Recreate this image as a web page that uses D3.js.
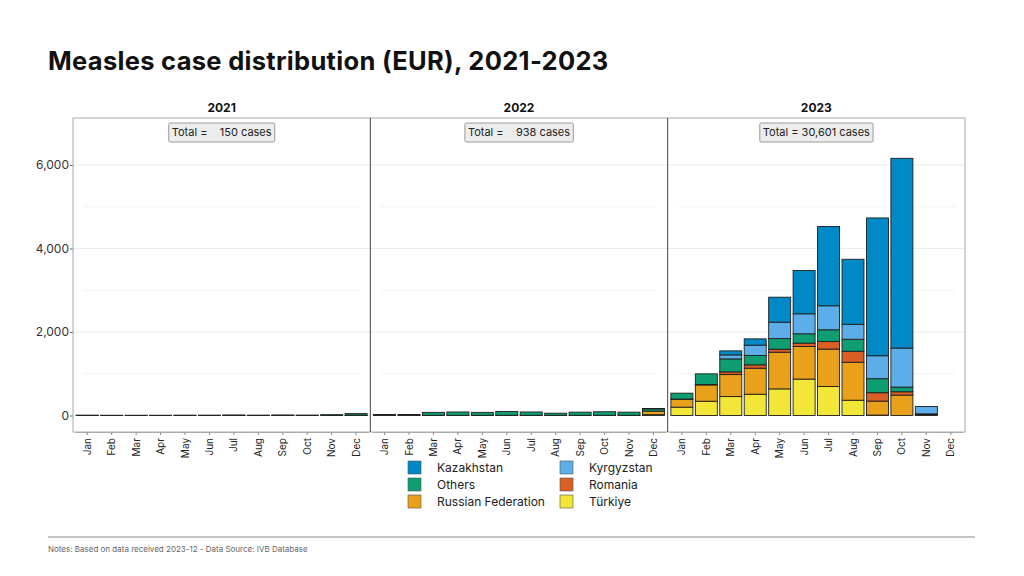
<!DOCTYPE html>
<html>
<head>
<meta charset="utf-8">
<script src="https://cdn.jsdelivr.net/npm/d3@7"></script>
<style>
  body { margin: 0; background: #fff; }
  svg { font-family: Inter, "Open Sans", sans-serif; }
</style>
</head>
<body>
<svg id="chart" width="1024" height="576"></svg>
<script>
// ---- data ----
const years = ["2021", "2022", "2023"];
const months = ["Jan","Feb","Mar","Apr","May","Jun","Jul","Aug","Sep","Oct","Nov","Dec"];
const seriesNames = ["Türkiye", "Russian Federation", "Romania", "Others", "Kyrgyzstan", "Kazakhstan"]; // stack order bottom->top
const legendOrder = ["Kazakhstan", "Kyrgyzstan", "Others", "Romania", "Russian Federation", "Türkiye"];
const yTicks = [0, 2000, 4000, 6000];
const yMinor = [1000, 3000, 5000];

// monthly values, 2021 Jan .. 2023 Dec (36 values)
const kazakhstan = [0,0,0,0,0,0,0,0,0,0,0,0,
                    0,0,0,0,0,0,0,0,0,0,0,8,
                    0,0,96,151,599,1037,1900,1557,3300,4545,0,0];
const kyrgyzstan = [0,0,0,0,0,0,0,0,0,0,0,0,
                    0,0,0,0,0,0,0,0,0,0,0,0,
                    0,0,96,249,393,479,575,359,551,934,175,0];
const others     = [6,5,5,5,6,6,8,6,8,8,16,36,
                    20,20,70,80,70,90,80,50,75,85,75,55,
                    140,256,311,223,254,223,280,287,335,112,20,0];
const romania    = [0,0,0,0,0,0,0,0,0,0,0,0,
                    0,0,0,0,0,0,0,0,0,0,0,0,
                    5,10,65,80,72,81,182,263,201,80,0,0];
const russia     = [2,1,1,1,2,2,2,2,2,2,4,8,
                    5,5,5,5,5,5,5,5,5,5,5,85,
                    190,390,527,623,879,781,896,910,335,489,20,0];
const turkiye    = [0,0,0,0,0,0,2,0,2,0,0,2,
                    0,0,0,0,0,0,0,0,0,0,0,20,
                    200,342,453,510,637,872,695,366,10,0,0,0];

const colors = {
  "Kazakhstan": "#0089c7",
  "Kyrgyzstan": "#5daee8",
  "Others": "#0f9d72",
  "Romania": "#d95f26",
  "Russian Federation": "#e9a01b",
  "Türkiye": "#f2e739"
};

const valuesBy = {
  "Kazakhstan": kazakhstan, "Kyrgyzstan": kyrgyzstan, "Others": others,
  "Romania": romania, "Russian Federation": russia, "Türkiye": turkiye
};

// build table
const rows = [];
years.forEach((yr, yi) => months.forEach((m, mi) => {
  const r = {year: yr, month: m};
  seriesNames.forEach(s => r[s] = valuesBy[s][yi * 12 + mi]);
  rows.push(r);
}));

const svg = d3.select("#chart");

// title
svg.append("text").attr("x", 48).attr("y", 70)
  .attr("font-size", 25.5).attr("font-weight", 700).attr("fill", "#111")
  .attr("letter-spacing", 0.3)
  .text("Measles case distribution (EUR), 2021-2023");

const panelTop = 118, panelBottom = 432;
const panelX = d3.scaleBand().domain(years).range([73, 965]);
const y = d3.scaleLinear().domain([0, 6000]).range([415.5, 165]);

const stack = d3.stack().keys(seriesNames);

// y axis
const yAxis = d3.axisLeft(y).tickValues(yTicks).tickFormat(d3.format(",")).tickSize(3).tickPadding(1);
const ya = svg.append("g").attr("transform", "translate(73,0)").call(yAxis);
ya.select(".domain").remove();
ya.selectAll("text").attr("font-size", 12).attr("fill", "#333").attr("font-family", "Inter, 'Open Sans', sans-serif");
ya.selectAll("line").attr("stroke", "#666");

years.forEach((yr, yi) => {
  const x0 = panelX(yr), x1 = x0 + panelX.bandwidth();
  const g = svg.append("g");
  // gridlines
  g.selectAll(".gmaj").data(yTicks.filter(d => d > 0)).join("line")
    .attr("x1", x0).attr("x2", x1).attr("y1", d => y(d)).attr("y2", d => y(d))
    .attr("stroke", "#ececec").attr("stroke-width", 1);
  g.selectAll(".gmin").data(yMinor).join("line")
    .attr("x1", x0 + 10).attr("x2", x1 - 10).attr("y1", d => y(d)).attr("y2", d => y(d))
    .attr("stroke", "#f3f3f3").attr("stroke-width", 1);

  const x = d3.scaleBand().domain(months).range([x0 + 2, x1 - 2]).paddingInner(0.1).paddingOuter(0.05);
  const data = rows.filter(r => r.year === yr);
  const st = stack(data);
  g.selectAll(".layer").data(st).join("g")
    .attr("fill", d => colors[d.key])
    .selectAll("rect").data(d => d).join("rect")
    .attr("x", d => x(d.data.month))
    .attr("width", x.bandwidth())
    .attr("y", d => y(d[1]))
    .attr("height", d => Math.max(0, y(d[0]) - y(d[1])))
    .attr("stroke", "#1e1e1e").attr("stroke-width", 0.9);

  // x axis labels
  const xa = svg.append("g").attr("transform", `translate(0,${panelBottom})`)
    .call(d3.axisBottom(x).tickSize(3).tickSizeOuter(0));
  xa.select(".domain").attr("stroke", "#aaa");
  xa.selectAll("line").attr("stroke", "#888");
  xa.selectAll("text")
    .attr("font-size", 10).attr("fill", "#222").attr("font-family", "Inter, 'Open Sans', sans-serif")
    .attr("text-anchor", "end").attr("dy", "0.35em").attr("dx", 0)
    .attr("transform", "translate(0,2) rotate(-90)").attr("x", -4).attr("y", 0);

  // year header
  const cx = (x0 + x1) / 2;
  svg.append("text").attr("x", cx).attr("y", 112).attr("text-anchor", "middle")
    .attr("font-size", 12).attr("font-weight", 700).attr("fill", "#111").text(yr);

  // total box
  const total = d3.sum(data, r => d3.sum(seriesNames, s => r[s]));
  const label = yi === 2 ? `Total = ${d3.format(",")(total)} cases` : `Total =    ${d3.format(",")(total)} cases`;
  const tg = svg.append("g");
  const t = tg.append("text").attr("x", cx).attr("y", 136).attr("text-anchor", "middle")
    .attr("font-size", 11).attr("fill", "#222").attr("xml:space", "preserve")
    .style("white-space", "pre").text(label);
  const bb = t.node().getBBox();
  tg.insert("rect", "text").attr("x", bb.x - 3).attr("y", 123).attr("width", bb.width + 6).attr("height", 19)
    .attr("fill", "#ededed").attr("stroke", "#999").attr("rx", 1.5);
});

// panel frame
svg.append("rect").attr("x", 73).attr("y", panelTop).attr("width", 965 - 73).attr("height", panelBottom - panelTop)
  .attr("fill", "none").attr("stroke", "#aaa");
years.slice(1).forEach(yr => {
  svg.append("line").attr("x1", panelX(yr)).attr("x2", panelX(yr))
    .attr("y1", panelTop).attr("y2", panelBottom).attr("stroke", "#444");
});

// legend
const lg = svg.append("g");
legendOrder.forEach((name, i) => {
  const col = i % 2, row = Math.floor(i / 2);
  const lx = col === 0 ? 408 : 560, ly = 461 + row * 17;
  lg.append("rect").attr("x", lx).attr("y", ly).attr("width", 13).attr("height", 13)
    .attr("fill", colors[name]).attr("stroke", "#555").attr("stroke-width", 0.6);
  lg.append("text").attr("x", lx + 29).attr("y", ly + 10.5).attr("font-size", 12).attr("fill", "#222").text(name);
});

// footer
svg.append("line").attr("x1", 48).attr("x2", 975).attr("y1", 537).attr("y2", 537).attr("stroke", "#888");
svg.append("text").attr("x", 48).attr("y", 552).attr("font-size", 8).attr("fill", "#666")
  .text("Notes: Based on data received 2023-12 - Data Source: IVB Database");
</script>
</body>
</html>
